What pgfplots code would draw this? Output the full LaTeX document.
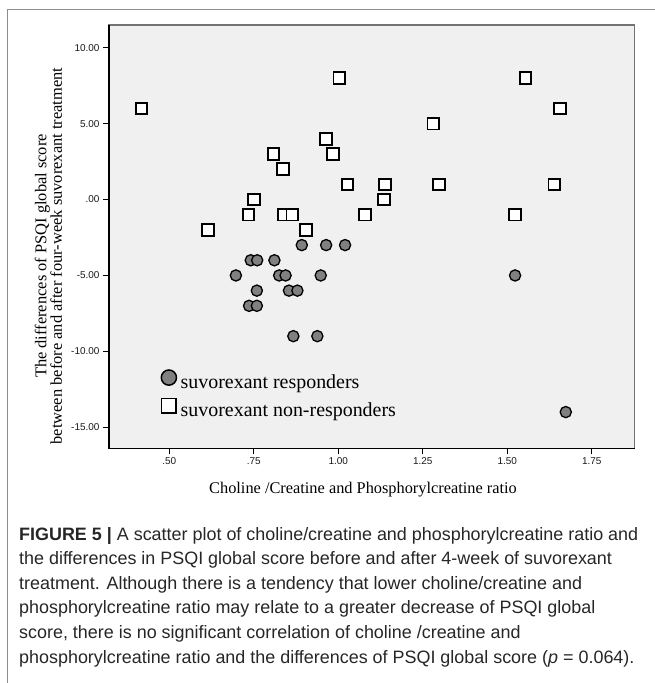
\documentclass[border=0pt]{standalone}
\usepackage{pgfplots}
\pgfplotsset{compat=1.18}
\usepackage{fontspec}
\setmainfont{Liberation Serif}
\newfontfamily\sansf{Liberation Sans}

% responders (circles)
\pgfplotstableread{
x      y
0.892  -3
0.964  -3
1.020  -3
0.741  -4
0.760  -4
0.811  -4
0.697  -5
0.825  -5
0.844  -5
0.948  -5
1.523  -5
0.759  -6
0.854  -6
0.879  -6
0.736  -7
0.759  -7
0.867  -9
0.938  -9
1.673  -14
}\responders

% non-responders (squares)
\pgfplotstableread{
x      y
0.418   6
1.003   8
1.554   8
1.656   6
1.281   5
0.964   4
0.808   3
0.985   3
0.837   2
1.027   1
1.138   1
1.298   1
1.639   1
0.751   0
1.135   0
0.734  -1
0.839  -1
0.864  -1
1.079  -1
1.523  -1
0.615  -2
0.904  -2
}\nonresponders

\begin{document}
\begin{tikzpicture}
\useasboundingbox (0bp,0bp) rectangle (655bp,683bp);
\draw[black!45, line width=1.4bp] (7.3bp,0bp) -- (7.3bp,673.7bp) -- (655bp,673.7bp);

\begin{axis}[
  at={(109bp,234.5bp)}, anchor=south west,
  scale only axis, width=525.5bp, height=423.5bp,
  xmin=0.3216, xmax=1.8763, ymin=-16.40, ymax=11.50,
  axis background/.style={fill=black!6},
  axis line style={draw=black!55, line width=1.2bp},
  xtick={0.5,0.75,1,1.25,1.5,1.75},
  xticklabels={.50,.75,1.00,1.25,1.50,1.75},
  ytick={-15,-10,-5,0,5,10},
  yticklabels={-15.00,-10.00,-5.00,.00,5.00,10.00},
  tick align=outside, xtick pos=bottom, ytick pos=left,
  major tick length=6bp,
  tick style={black, line width=1.3bp},
  ticklabel style={font=\sansf\fontsize{10}{11}\selectfont, text=black!90},
  legend style={at={(0.0995,0.1854)}, anchor=north west, draw=none, fill=none,
    inner sep=0pt, outer sep=0pt, column sep=4.2bp, row sep=5.8bp,
    font=\fontsize{20}{24}\selectfont,
    nodes={inner sep=0pt, text height=14bp, text depth=4.5bp}},
  legend cell align=left,
  legend image code/.code={\draw[mark repeat=2, mark phase=2, #1]
    plot coordinates {(0bp,5.7bp) (8bp,5.7bp) (16bp,5.7bp)};},
]
\addplot[only marks, mark=*, mark size=5.6bp, forget plot,
  mark options={fill=black!50, draw=black, line width=1.3bp}]
  table[x=x, y=y] {\responders};
\addplot[only marks, mark=square*, mark size=5.8bp, forget plot,
  mark options={fill=white, draw=black, line width=1.9bp}]
  table[x=x, y=y] {\nonresponders};

\addlegendimage{only marks, mark=*, mark size=7.6bp,
  mark options={fill=black!50, draw=black, line width=1.5bp}}
\addlegendentry{suvorexant responders}
\addlegendimage{only marks, mark=square*, mark size=7.3bp,
  mark options={fill=white, draw=black, line width=1.5bp}}
\addlegendentry{suvorexant non-responders}
\end{axis}
\draw[black, line width=1.5bp] (current axis.north west) -- (current axis.south west) -- (current axis.south east);

\node[anchor=base, inner sep=0pt, font=\fontsize{16.4}{18}\selectfont] at (363bp,189bp)
  {Choline /Creatine and Phosphorylcreatine ratio};
\node[rotate=90, align=center, inner sep=0pt, font=\fontsize{16.5}{15.5}\selectfont] at (48.5bp,427bp)
  {The differences of PSQI global score\\between before and after four-week suvorexant treatment};

\begin{scope}[every node/.style={anchor=base west, inner sep=0pt, text=black!85,
    font=\sansf\fontsize{18}{20}\selectfont}]
\node at (19bp,142.5bp) {\textbf{FIGURE 5 |} A scatter plot of choline/creatine and phosphorylcreatine ratio and};
\node at (19bp,118bp) {the differences in PSQI global score before and after 4-week of suvorexant};
\node at (19bp,93.5bp) {treatment. Although there is a tendency that lower choline/creatine and};
\node at (19bp,69bp) {phosphorylcreatine ratio may relate to a greater decrease of PSQI global};
\node at (19bp,44.5bp) {score, there is no significant correlation of choline /creatine and};
\node at (19bp,20bp) {phosphorylcreatine ratio and the differences of PSQI global score (\textit{p} = 0.064).};
\end{scope}
\end{tikzpicture}
\end{document}
